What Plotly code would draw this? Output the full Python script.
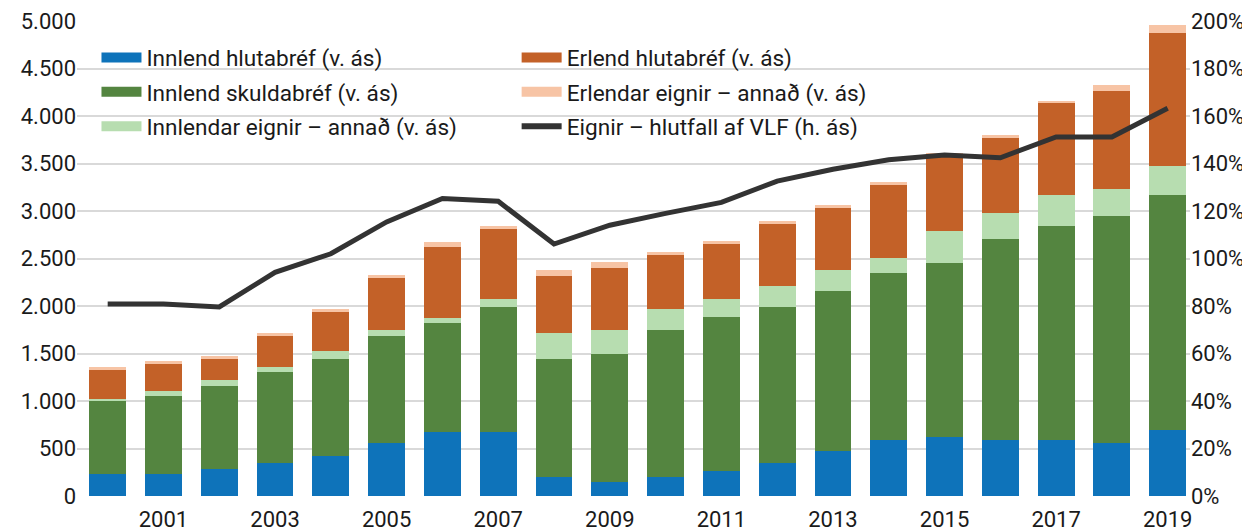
import plotly.graph_objects as go

years = list(range(2000, 2020))

innlend_hlutabref = [230, 230, 286, 343, 422, 561, 672, 672, 204, 150, 204, 261, 343, 479, 590, 618, 590, 590, 561, 697]
innlend_skuldabref = [767, 825, 876, 962, 1018, 1122, 1147, 1315, 1233, 1344, 1540, 1619, 1644, 1680, 1755, 1834, 2112, 2251, 2388, 2470]
innlendar_annad = [29, 54, 60, 53, 86, 65, 57, 86, 279, 254, 222, 193, 222, 218, 164, 336, 275, 329, 278, 307]
erlend_hlutabref = [304, 282, 222, 329, 415, 547, 747, 740, 600, 654, 572, 579, 657, 657, 768, 811, 794, 962, 1040, 1401]
erlendar_annad = [28, 25, 28, 29, 28, 28, 54, 32, 61, 57, 28, 28, 32, 29, 29, 12, 28, 28, 58, 82]
hlutfall_vlf = [80.8, 80.8, 79.6, 94.2, 102.0, 115.4, 125.3, 124.1, 106.1, 114.0, 119.0, 123.6, 132.6,
                137.6, 141.6, 143.6, 142.4, 151.2, 151.2, 163.3]

left_ticks = list(range(0, 5001, 500))
right_ticks = list(range(0, 201, 20))
right_labels = [f"{v}%" for v in right_ticks]
x_ticks = list(range(2001, 2020, 2))

FONT = "Roboto"
TXT = "#1a1a1a"

fig = go.Figure()

bars = [
    ("Innlend hlutabréf (v. ás)", innlend_hlutabref, "#0E73BA", "legend"),
    ("Innlend skuldabréf (v. ás)", innlend_skuldabref, "#548540", "legend"),
    ("Innlendar eignir – annað (v. ás)", innlendar_annad, "#B7DDB0", "legend"),
    ("Erlend hlutabréf (v. ás)", erlend_hlutabref, "#C36128", "legend2"),
    ("Erlendar eignir – annað (v. ás)", erlendar_annad, "#F7C4A5", "legend2"),
]
for name, vals, color, leg in bars:
    fig.add_trace(go.Bar(
        x=years, y=vals, name=name, marker_color=color,
        marker_line_width=0, showlegend=False,
    ))

fig.add_trace(go.Scatter(
    x=years, y=hlutfall_vlf, name="Eignir – hlutfall af VLF (h. ás)",
    mode="lines", line=dict(color="#333333", width=5), yaxis="y2", showlegend=False,
))

# legend-only entries drawn as wide rectangles, like the original swatches
for i, (name, vals, color, leg) in enumerate(bars):
    fig.add_trace(go.Scatter(
        x=[None], y=[None], mode="lines", name=name, legendgroup=f"g{i}",
        line=dict(color=color, width=16), legend=leg,
    ))
fig.add_trace(go.Scatter(
    x=[None], y=[None], mode="lines", name="Eignir – hlutfall af VLF (h. ás)",
    legendgroup="g5", line=dict(color="#333333", width=6), legend="legend2",
))

legend_style = dict(
    font=dict(family=FONT, size=22.6, color=TXT),
    bgcolor="rgba(0,0,0,0)", tracegroupgap=2, itemwidth=40, traceorder="grouped",
    yanchor="top", xanchor="left",
)

# page body adds an 8px offset, so the figure is drawn 8px smaller than the window
fig.update_layout(
    width=1242, height=523,
    margin=dict(l=69, r=60, t=13, b=35),
    barmode="stack", bargap=0.34,
    plot_bgcolor="white", paper_bgcolor="white",
    separators=",.",
    font=dict(family=FONT, size=22, color=TXT),
    xaxis=dict(
        range=[1999.45, 2019.4], tickvals=x_ticks, ticks="outside", ticklen=4,
        tickcolor="rgba(0,0,0,0)", automargin=False,
        showgrid=False, zeroline=False, showline=False,
    ),
    yaxis=dict(
        range=[0, 5000], tickvals=left_ticks, tickformat=",d", automargin=False,
        gridcolor="#D9D9D9", gridwidth=1.5, zeroline=False, showline=False,
    ),
    yaxis2=dict(
        range=[0, 200], tickvals=right_ticks, ticktext=right_labels, automargin=False,
        overlaying="y", side="right", showgrid=False, zeroline=False,
    ),
    legend=dict(x=0.0175, y=0.968, **legend_style),
    legend2=dict(x=0.395, y=0.968, **legend_style),
    showlegend=True,
)

fig.write_html("out.html")
